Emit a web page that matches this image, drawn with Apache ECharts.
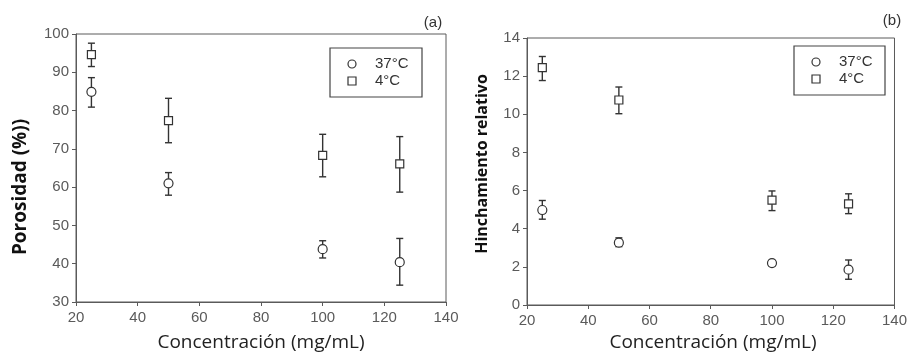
<!DOCTYPE html>
<html>
<head>
<meta charset="utf-8">
<script src="https://cdn.jsdelivr.net/npm/echarts@6/dist/echarts.min.js"></script>
<style>
  html, body { margin: 0; padding: 0; background: #fff; }
  #chart { width: 910px; height: 359px; }
</style>
</head>
<body>
<div id="chart"></div>
<script>
// Concentrations (mg/mL)
const concentrations = [25, 50, 100, 125];

// (a) Porosity (%)
const porosity37 = [84.9, 61.0, 43.8, 40.4];
const porosity37Low = [80.9, 57.9, 41.5, 34.4];
const porosity37High = [88.6, 63.8, 46.0, 46.6];
const porosity4 = [94.6, 77.4, 68.3, 66.1];
const porosity4Low = [91.5, 71.6, 62.7, 58.7];
const porosity4High = [97.6, 83.2, 73.8, 73.2];

// (b) Relative swelling
const swelling37 = [4.98, 3.27, 2.2, 1.85];
const swelling37Low = [4.5, 3.06, 2.1, 1.35];
const swelling37High = [5.48, 3.52, 2.33, 2.36];
const swelling4 = [12.45, 10.75, 5.5, 5.3];
const swelling4Low = [11.77, 10.03, 4.95, 4.79];
const swelling4High = [13.03, 11.43, 5.98, 5.83];

const seriesNames = ['37°C', '4°C'];
const xTicks = { min: 20, max: 140, interval: 20 };
const porosityTicks = { min: 30, max: 100, interval: 10 };
const swellingTicks = { min: 0, max: 14, interval: 2 };

const axisGray = '#5a5a5a';
const tickFont = 'Liberation Sans, Arial, sans-serif';
const titleFont = 'Open Sans, Noto Sans, sans-serif';

function pairs(xs, ys) { return xs.map((x, i) => [x, ys[i]]); }
function triples(xs, lo, hi) { return xs.map((x, i) => [x, lo[i], hi[i]]); }

// whisker drawn between low and high, with short caps
function errorBars(idx, data) {
  return {
    type: 'custom',
    xAxisIndex: idx, yAxisIndex: idx,
    silent: true, z: 2,
    data: data,
    renderItem: function (params, api) {
      const x = api.value(0);
      const pLo = api.coord([x, api.value(1)]);
      const pHi = api.coord([x, api.value(2)]);
      const half = 3.5;
      const style = { stroke: '#333', lineWidth: 1.4 };
      return {
        type: 'group',
        children: [
          { type: 'line', shape: { x1: pLo[0], y1: pLo[1], x2: pHi[0], y2: pHi[1] }, style: style },
          { type: 'line', shape: { x1: pLo[0] - half, y1: pLo[1], x2: pLo[0] + half, y2: pLo[1] }, style: style },
          { type: 'line', shape: { x1: pHi[0] - half, y1: pHi[1], x2: pHi[0] + half, y2: pHi[1] }, style: style }
        ]
      };
    }
  };
}

function markers(idx, name, symbol, data, size) {
  return {
    type: 'scatter', name: name,
    xAxisIndex: idx, yAxisIndex: idx,
    symbol: symbol, symbolSize: size, z: 3,
    itemStyle: { color: '#fff', borderColor: '#333', borderWidth: 1.2, opacity: 1 },
    data: data
  };
}

function xAxis(idx) {
  return {
    type: 'value', gridIndex: idx,
    min: xTicks.min, max: xTicks.max, interval: xTicks.interval,
    axisLine: { lineStyle: { color: axisGray, width: 1 } },
    axisTick: { show: true, length: 4, lineStyle: { color: axisGray } },
    axisLabel: { color: axisGray, fontSize: 15, fontFamily: tickFont, margin: 8 },
    splitLine: { show: false }
  };
}

function yAxis(idx, t) {
  return {
    type: 'value', gridIndex: idx,
    min: t.min, max: t.max, interval: t.interval,
    axisLine: { show: true, lineStyle: { color: axisGray, width: 1 } },
    axisTick: { show: true, length: 4, lineStyle: { color: axisGray } },
    axisLabel: { color: axisGray, fontSize: 15, fontFamily: tickFont, margin: 7 },
    splitLine: { show: false }
  };
}

// boxed key with a hollow circle and a hollow square
function legendBox(x, y, w, h) {
  const style = { fill: '#fff', stroke: '#333', lineWidth: 1.2 };
  return [
    { type: 'rect', shape: { x: x, y: y, width: w, height: h }, style: { fill: 'none', stroke: '#444', lineWidth: 1.2 } },
    { type: 'circle', shape: { cx: x + 22, cy: y + 16, r: 4 }, style: style },
    { type: 'rect', shape: { x: x + 18, y: y + 29, width: 8, height: 8 }, style: style },
    { type: 'text', x: x + 45, y: y + 16, style: { text: seriesNames[0], font: '15px ' + tickFont, fill: '#333', verticalAlign: 'middle' } },
    { type: 'text', x: x + 45, y: y + 33, style: { text: seriesNames[1], font: '15px ' + tickFont, fill: '#333', verticalAlign: 'middle' } }
  ];
}

const chart = echarts.init(document.getElementById('chart'), null, { renderer: 'canvas' });

chart.setOption({
  animation: false,
  backgroundColor: '#fff',
  grid: [
    { left: 76, right: 464, top: 34, bottom: 57, show: true, borderColor: axisGray, borderWidth: 1 },
    { left: 527, right: 14, top: 38, bottom: 54, show: true, borderColor: axisGray, borderWidth: 1 }
  ],
  xAxis: [xAxis(0), xAxis(1)],
  yAxis: [yAxis(0, porosityTicks), yAxis(1, swellingTicks)],
  series: [
    errorBars(0, triples(concentrations, porosity37Low, porosity37High)),
    errorBars(0, triples(concentrations, porosity4Low, porosity4High)),
    markers(0, seriesNames[0], 'circle', pairs(concentrations, porosity37), 9),
    markers(0, seriesNames[1], 'rect', pairs(concentrations, porosity4), 8),
    errorBars(1, triples(concentrations, swelling37Low, swelling37High)),
    errorBars(1, triples(concentrations, swelling4Low, swelling4High)),
    markers(1, seriesNames[0], 'circle', pairs(concentrations, swelling37), 9),
    markers(1, seriesNames[1], 'rect', pairs(concentrations, swelling4), 8)
  ],
  graphic: [
    { type: 'text', x: 433, y: 23, style: { text: '(a)', font: '15px ' + tickFont, fill: '#333', align: 'center', verticalAlign: 'middle' } },
    { type: 'text', x: 892, y: 21, style: { text: '(b)', font: '15px ' + tickFont, fill: '#333', align: 'center', verticalAlign: 'middle' } },
    { type: 'text', x: 261, y: 343, style: { text: 'Concentración (mg/mL)', font: '19px ' + titleFont, fill: '#222', align: 'center', verticalAlign: 'middle' } },
    { type: 'text', x: 713, y: 343, style: { text: 'Concentración (mg/mL)', font: '19px ' + titleFont, fill: '#222', align: 'center', verticalAlign: 'middle' } },
    { type: 'text', x: 21, y: 187, rotation: Math.PI / 2, style: { text: 'Porosidad (%))', font: 'bold 19px ' + titleFont, fill: '#111', align: 'center', verticalAlign: 'middle' } },
    { type: 'text', x: 482, y: 164, rotation: Math.PI / 2, style: { text: 'Hinchamiento relativo', font: 'bold 16px ' + titleFont, fill: '#111', align: 'center', verticalAlign: 'middle' } }
  ].concat(legendBox(330, 48, 92, 49), legendBox(794, 46, 91, 49))
});
</script>
</body>
</html>
